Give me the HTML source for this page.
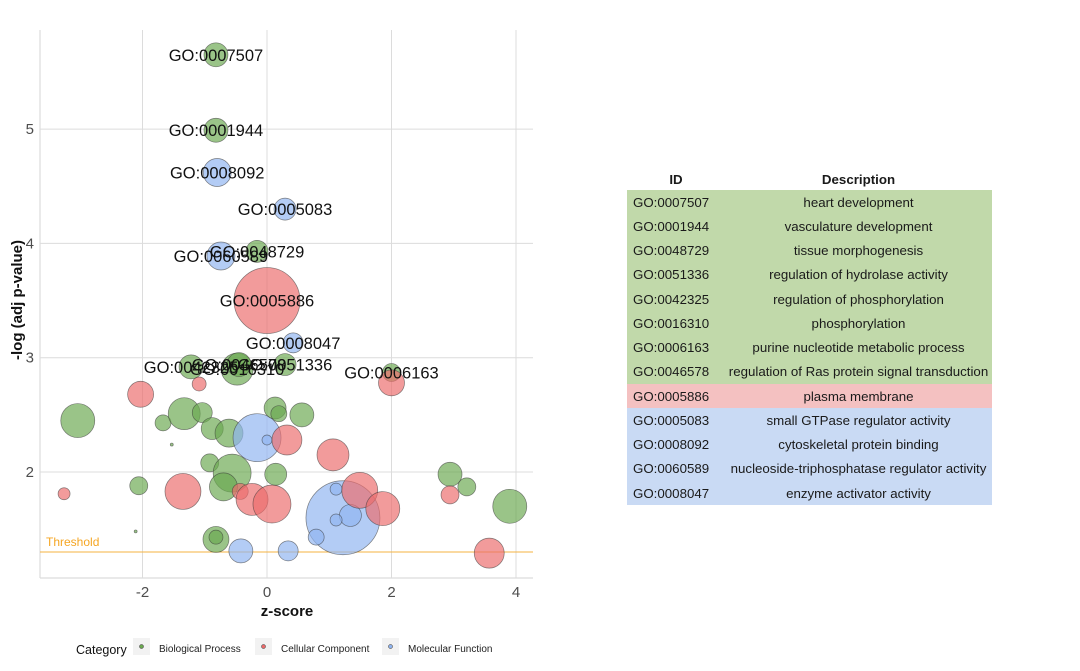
<!DOCTYPE html>
<html><head><meta charset="utf-8">
<style>
body{margin:0;background:#fff;font-family:"Liberation Sans",Arial,sans-serif;}
#wrap{position:relative;width:1080px;height:671px;overflow:hidden;}
svg{position:absolute;left:0;top:0;}
table{position:absolute;left:627px;top:169px;border-collapse:collapse;font-size:13.3px;color:#1a1a1a;}
td,th{padding:0;height:24.25px;white-space:nowrap;}
th{font-weight:bold;height:21px;}
td.id{width:92px;text-align:left;padding-left:6px;}
td.d{width:267px;text-align:center;}
tr.bp td{background:#c1d9aa;} tr.cc td{background:#f4c1c1;} tr.mf td{background:#c9daf4;}
</style></head><body>
<div id="wrap">
<svg id="chart" width="1080" height="671"></svg>
<table>
<tr><th>ID</th><th>Description</th></tr>
<tr class="bp"><td class="id">GO:0007507</td><td class="d">heart development</td></tr>
<tr class="bp"><td class="id">GO:0001944</td><td class="d">vasculature development</td></tr>
<tr class="bp"><td class="id">GO:0048729</td><td class="d">tissue morphogenesis</td></tr>
<tr class="bp"><td class="id">GO:0051336</td><td class="d">regulation of hydrolase activity</td></tr>
<tr class="bp"><td class="id">GO:0042325</td><td class="d">regulation of phosphorylation</td></tr>
<tr class="bp"><td class="id">GO:0016310</td><td class="d">phosphorylation</td></tr>
<tr class="bp"><td class="id">GO:0006163</td><td class="d">purine nucleotide metabolic process</td></tr>
<tr class="bp"><td class="id">GO:0046578</td><td class="d">regulation of Ras protein signal transduction</td></tr>
<tr class="cc"><td class="id">GO:0005886</td><td class="d">plasma membrane</td></tr>
<tr class="mf"><td class="id">GO:0005083</td><td class="d">small GTPase regulator activity</td></tr>
<tr class="mf"><td class="id">GO:0008092</td><td class="d">cytoskeletal protein binding</td></tr>
<tr class="mf"><td class="id">GO:0060589</td><td class="d">nucleoside-triphosphatase regulator activity</td></tr>
<tr class="mf"><td class="id">GO:0008047</td><td class="d">enzyme activator activity</td></tr>
</table>
</div>
<script>
// data
const zscores = [-0.82,-0.82,-0.80,0.29,-0.74,-0.16,0.00,0.42,0.29,-1.22,-0.48,-0.45,2.00,2.00,
 -2.03,-1.09,-3.04,-1.67,-1.33,-1.04,-0.88,-0.61,-0.16,0.00,-1.53,-0.92,-0.56,-0.70,-1.35,-0.43,-0.24,0.08,-3.26,-2.06,-2.11,-0.82,-0.82,-0.42,0.34,
 0.13,0.19,0.56,0.32,1.06,0.14,1.22,1.11,1.34,1.11,1.49,1.86,0.79,2.94,3.21,2.94,3.90,3.57];
const pvals = [5.65,4.99,4.62,4.30,3.89,3.93,3.50,3.13,2.94,2.92,2.90,2.94,2.87,2.78,
 2.68,2.77,2.45,2.43,2.51,2.52,2.38,2.34,2.30,2.28,2.24,2.08,1.99,1.87,1.83,1.83,1.76,1.72,1.81,1.88,1.48,1.41,1.43,1.31,1.31,
 2.56,2.51,2.50,2.28,2.15,1.98,1.60,1.85,1.62,1.58,1.84,1.68,1.43,1.98,1.87,1.80,1.70,1.29];
const sizes = [12,12,14,11,14,11,33,10,11,12,16,12,9,13,
 13,7,17,8,16,10,11,14,24,5,1.5,9,19,14,18,8,16,19,6,9,1.5,13,7,12,10,
 11,8,12,15,16,11,37,6,11,6,18,17,8,12,9,9,17,15];
const cats = ["BP","BP","MF","MF","MF","BP","CC","MF","BP","BP","BP","BP","BP","CC",
 "CC","CC","BP","BP","BP","BP","BP","BP","MF","MF","BP","BP","BP","BP","CC","CC","CC","CC","CC","BP","BP","BP","BP","MF","MF",
 "BP","BP","BP","CC","CC","BP","MF","MF","MF","MF","CC","CC","MF","BP","BP","CC","BP","CC"];
const labels = ["GO:0007507","GO:0001944","GO:0008092","GO:0005083","GO:0060589","GO:0048729","GO:0005886","GO:0008047","GO:0051336","GO:0042325","GO:0016310","GO:0046578","GO:0006163"];
const xTicks = [-2,0,2,4];
const yTicks = [2,3,4,5];
const threshold = 1.3;

const X = z => 267 + 62.25*z;
const Y = v => 472 - 114.3*(v-2);
const R = s => s;
const fills = {BP:"#6aa84f",CC:"#ec6b6b",MF:"#8fb4f0"};
const NS="http://www.w3.org/2000/svg";
const svg=document.getElementById('chart');
function mk(t,a,p){const e=document.createElementNS(NS,t);for(const k in a)e.setAttribute(k,a[k]);(p||svg).appendChild(e);return e;}

mk('line',{x1:40,y1:30,x2:40,y2:578,stroke:'#dcdcdc','stroke-width':1.2});
mk('line',{x1:40,y1:578,x2:533,y2:578,stroke:'#dcdcdc','stroke-width':1.2});
xTicks.forEach(t=>{
 const g=mk('line',{x1:X(t),y1:30,x2:X(t),y2:578,stroke:'#dcdcdc','stroke-width':1});
 
 const tx=mk('text',{x:X(t),y:597,'text-anchor':'middle','font-size':15,fill:'#4d4d4d'});
 tx.textContent=t;
 
 
});
yTicks.forEach(t=>{
 const g=mk('line',{x1:40,y1:Y(t),x2:533,y2:Y(t),stroke:'#dcdcdc','stroke-width':1});
 
 const tx=mk('text',{x:34,y:Y(t)+5,'text-anchor':'end','font-size':15,fill:'#4d4d4d'});
 tx.textContent=t;
 
 
});
const th=mk('line',{x1:40,y1:Y(threshold),x2:533,y2:Y(threshold),stroke:'#f5b342','stroke-width':1});


const tt=mk('text',{x:46,y:Y(threshold)-6,'font-size':12,fill:'#f5a623'});tt.textContent='Threshold';



zscores.forEach((z,i)=>{
 const c=mk('circle',{cx:X(z),cy:Y(pvals[i]),r:R(sizes[i]),fill:fills[cats[i]],'fill-opacity':0.68,stroke:'#333','stroke-opacity':0.6,'stroke-width':0.7});
 
 
});
labels.forEach((l,i)=>{
 const t=mk('text',{x:X(zscores[i]),y:Y(pvals[i])+6,'text-anchor':'middle','font-size':16.5,fill:'#111'});
 t.textContent=l;
 
 
});
const xt=mk('text',{x:287,y:616,'text-anchor':'middle','font-size':15,'font-weight':'bold',fill:'#111'});xt.textContent='z-score';


const yt=mk('text',{x:0,y:0,'text-anchor':'middle','font-size':15,'font-weight':'bold',fill:'#111',transform:'translate(22,300) rotate(-90)'});yt.textContent='-log (adj p-value)';


const lt=mk('text',{x:76,y:654,'font-size':12.5,fill:'#111'});lt.textContent='Category';


const legNames=["Biological Process","Cellular Component","Molecular Function"];
const legKeys=["BP","CC","MF"];
const legX=[133,255,382];
legKeys.forEach((k,i)=>{
 const g=mk('g',{});
 
 
 mk('rect',{x:legX[i],y:638,width:17,height:17,fill:'#f2f2f2'},g);
 mk('circle',{cx:legX[i]+8.5,cy:646.5,r:2,fill:fills[k],stroke:'#333','stroke-width':0.5},g);
 const t=mk('text',{x:legX[i]+26,y:652,'font-size':10,fill:'#222'},g);t.textContent=legNames[i];
});
</script>
</body></html>
